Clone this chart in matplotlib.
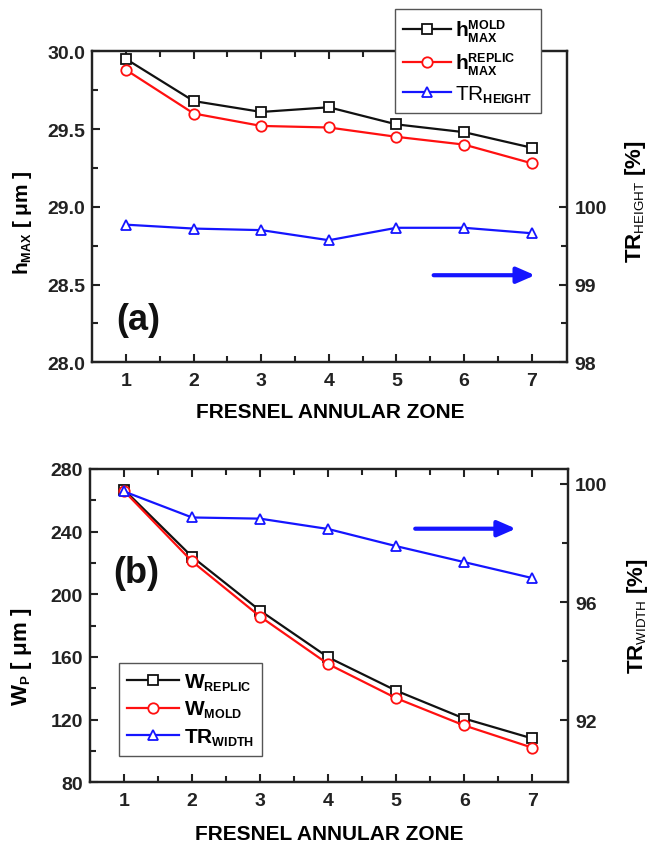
import matplotlib
matplotlib.use("Agg")
import matplotlib.pyplot as plt
import matplotlib._mathtext as _mathtext
from matplotlib.ticker import MultipleLocator, FixedLocator, FormatStrFormatter

plt.rcParams['font.family'] = ['Liberation Sans', 'DejaVu Sans']
plt.rcParams['mathtext.fontset'] = 'custom'
plt.rcParams['mathtext.rm'] = 'Liberation Sans:weight=normal'
plt.rcParams['mathtext.bf'] = 'Liberation Sans:weight=bold'
plt.rcParams['mathtext.it'] = 'Liberation Sans:italic'
plt.rcParams['mathtext.sf'] = 'Liberation Sans:weight=normal'
# smaller sub/superscripts for the index labels
_mathtext.SHRINK_FACTOR = 0.6

# Fresnel annular zones
zones = [1, 2, 3, 4, 5, 6, 7]

# (a) maximum height [um] and height transfer ratio [%]
h_mold = [29.95, 29.68, 29.61, 29.64, 29.53, 29.48, 29.38]
h_replic = [29.88, 29.60, 29.52, 29.51, 29.45, 29.40, 29.28]
tr_height = [99.77, 99.72, 99.70, 99.57, 99.73, 99.73, 99.66]

# (b) pitch width [um] and width transfer ratio [%]
w_replic = [266.8, 224.0, 189.6, 159.8, 138.5, 120.7, 108.0]
w_mold = [266.0, 221.0, 185.8, 155.5, 133.7, 116.3, 102.1]
tr_width = [99.74, 98.86, 98.82, 98.47, 97.89, 97.35, 96.81]

BLACK = '#111111'
RED = '#ff1010'
BLUE = '#1515ff'
TICKC = '#222222'

fig = plt.figure(figsize=(6.56, 8.45), dpi=100)

W, H = 656.0, 845.0
def axrect(l, t, r, b):
    return [l / W, 1 - b / H, (r - l) / W, (b - t) / H]

line_kw = dict(lw=1.6, markersize=7.5, markerfacecolor='white', markeredgewidth=1.3)


def style_axes(ax, ax2):
    for a in (ax, ax2):
        for s in a.spines.values():
            s.set_linewidth(1.6)
            s.set_color(TICKC)
    ax.tick_params(axis='both', which='both', direction='in', width=1.5,
                   colors=TICKC, labelsize=14, labelcolor=TICKC)
    ax.tick_params(axis='x', which='both', top=True, bottom=True, pad=7)
    ax.tick_params(axis='y', which='both', right=False, pad=5)
    ax.tick_params(which='major', length=6)
    ax.tick_params(which='minor', length=4)
    ax2.tick_params(axis='y', which='both', direction='in', width=1.5,
                    colors=TICKC, labelsize=14, labelcolor=TICKC, pad=5)
    ax2.tick_params(which='major', length=6)
    ax2.tick_params(which='minor', length=4)
    ax.set_xlim(0.5, 7.53)
    ax.xaxis.set_major_locator(FixedLocator(zones))
    ax.xaxis.set_minor_locator(FixedLocator([1.5, 2.5, 3.5, 4.5, 5.5, 6.5]))
    for lab in ax.get_xticklabels() + ax.get_yticklabels() + ax2.get_yticklabels():
        lab.set_fontweight('bold')


# ---------------- panel (a) ----------------
axa = fig.add_axes(axrect(92.3, 52.3, 567.5, 363.3))
axa2 = axa.twinx()
la1, = axa.plot(zones, h_mold, '-s', color=BLACK, mec=BLACK, **line_kw)
la2, = axa.plot(zones, h_replic, '-o', color=RED, mec=RED, **line_kw)
la3, = axa2.plot(zones, tr_height, '-^', color=BLUE, mec=BLUE, **line_kw)

axa.set_ylim(28.0, 30.0)
axa.yaxis.set_major_locator(MultipleLocator(0.5))
axa.yaxis.set_minor_locator(MultipleLocator(0.25))
axa.yaxis.set_major_formatter(FormatStrFormatter('%.1f'))
axa2.set_ylim(98, 102)
axa2.yaxis.set_major_locator(FixedLocator([98, 99, 100]))
axa2.yaxis.set_minor_locator(FixedLocator([98.5, 99.5]))
style_axes(axa, axa2)

axa.set_xlabel('FRESNEL ANNULAR ZONE', fontsize=15, fontweight='bold')
axa.xaxis.set_label_coords(0.5, -0.128)
axa.set_ylabel(r'h$_{\mathbf{MAX}}$ [ μm ]', fontsize=15, fontweight='bold')
axa.yaxis.set_label_coords(-0.123, 0.454)
axa2.set_ylabel(r'TR$_{\mathrm{HEIGHT}}$ [%]', fontsize=16, fontweight='bold')
axa2.yaxis.set_label_coords(1.116, 0.518)

axa.text(0.096, 0.139, '(a)', transform=axa.transAxes, fontsize=26,
         fontweight='bold', ha='center', va='center', color='#111111')

axa2.annotate('', xy=(7.05, 99.12), xytext=(5.55, 99.12),
              arrowprops=dict(arrowstyle='-|>,head_length=0.55,head_width=0.24',
                              mutation_scale=20, color=BLUE, lw=3.0,
                              shrinkA=0, shrinkB=0))

fig.legend([la1, la2, la3],
           [r'$\mathbf{h}^{\mathbf{MOLD}}_{\mathbf{MAX}}$',
            r'$\mathbf{h}^{\mathbf{REPLIC}}_{\mathbf{MAX}}$',
            r'$\mathrm{TR}_{\mathbf{HEIGHT}}$'],
           loc='upper left', bbox_to_anchor=(395 / W, 1 - 10 / H),
           fontsize=15, frameon=True, fancybox=False, framealpha=1,
           edgecolor='#555555', handlelength=2.3, handletextpad=0.2,
           labelspacing=0.3, borderpad=0.4, borderaxespad=0)
fig.legends[-1].get_frame().set_linewidth(1.0)

# ---------------- panel (b) ----------------
axb = fig.add_axes(axrect(90.0, 470.0, 568.3, 783.3))
axb2 = axb.twinx()
lb1, = axb.plot(zones, w_replic, '-s', color=BLACK, mec=BLACK, **line_kw)
lb2, = axb.plot(zones, w_mold, '-o', color=RED, mec=RED, **line_kw)
lb3, = axb2.plot(zones, tr_width, '-^', color=BLUE, mec=BLUE, **line_kw)

axb.set_ylim(80, 280)
axb.yaxis.set_major_locator(MultipleLocator(40))
axb.yaxis.set_minor_locator(MultipleLocator(20))
axb2.set_ylim(89.9, 100.5)
axb2.yaxis.set_major_locator(FixedLocator([92, 96, 100]))
axb2.yaxis.set_minor_locator(FixedLocator([94, 98]))
style_axes(axb, axb2)

axb.set_xlabel('FRESNEL ANNULAR ZONE', fontsize=15, fontweight='bold')
axb.xaxis.set_label_coords(0.5, -0.133)
axb.set_ylabel(r'W$_{\mathbf{P}}$ [ μm ]', fontsize=16, fontweight='bold')
axb.yaxis.set_label_coords(-0.118, 0.403)
axb2.set_ylabel(r'TR$_{\mathrm{WIDTH}}$ [%]', fontsize=16, fontweight='bold')
axb2.yaxis.set_label_coords(1.118, 0.534)

axb.text(0.096, 0.671, '(b)', transform=axb.transAxes, fontsize=26,
         fontweight='bold', ha='center', va='center', color='#111111')

axb2.annotate('', xy=(6.76, 98.48), xytext=(5.28, 98.48),
              arrowprops=dict(arrowstyle='-|>,head_length=0.55,head_width=0.24',
                              mutation_scale=20, color=BLUE, lw=3.0,
                              shrinkA=0, shrinkB=0))

fig.legend([lb1, lb2, lb3],
           [r'$\mathbf{W}_{\mathbf{REPLIC}}$',
            r'$\mathbf{W}_{\mathbf{MOLD}}$',
            r'$\mathbf{TR}_{\mathbf{WIDTH}}$'],
           loc='lower left', bbox_to_anchor=(119 / W, 1 - 757 / H),
           fontsize=15, frameon=True, fancybox=False, framealpha=1,
           edgecolor='#555555', handlelength=2.5, handletextpad=0.2,
           labelspacing=0.3, borderpad=0.4, borderaxespad=0)
fig.legends[-1].get_frame().set_linewidth(1.0)

fig.savefig('out.png', dpi=100)
